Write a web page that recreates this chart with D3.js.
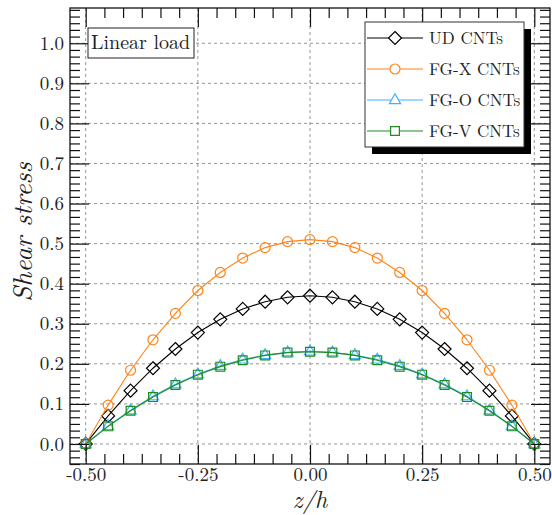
<!DOCTYPE html>
<html>
<head>
<meta charset="utf-8">
<script src="https://cdn.jsdelivr.net/npm/d3@7"></script>
<style>
  body { margin: 0; background: #fff; }
</style>
</head>
<body>
<svg id="chart" width="552" height="515"></svg>
<script>
// data
const zh = [-0.5, -0.45, -0.4, -0.35, -0.3, -0.25, -0.2, -0.15, -0.1, -0.05, 0,
            0.05, 0.1, 0.15, 0.2, 0.25, 0.3, 0.35, 0.4, 0.45, 0.5];
const udCNT  = [0, 0.070, 0.133, 0.189, 0.237, 0.278, 0.311, 0.337, 0.355, 0.366, 0.370,
                0.366, 0.355, 0.337, 0.311, 0.278, 0.237, 0.189, 0.133, 0.070, 0];
const fgxCNT = [0, 0.097, 0.184, 0.260, 0.326, 0.383, 0.428, 0.464, 0.490, 0.505, 0.510,
                0.505, 0.490, 0.464, 0.428, 0.383, 0.326, 0.260, 0.184, 0.097, 0];
const fgoCNT = [0, 0.045, 0.084, 0.119, 0.149, 0.174, 0.195, 0.211, 0.222, 0.229, 0.231,
                0.229, 0.222, 0.211, 0.195, 0.174, 0.149, 0.119, 0.084, 0.045, 0];
const fgvCNT = [0, 0.044, 0.083, 0.117, 0.147, 0.173, 0.193, 0.209, 0.221, 0.228, 0.230,
                0.228, 0.221, 0.209, 0.193, 0.173, 0.147, 0.117, 0.083, 0.044, 0];

const seriesNames = ["UD CNTs", "FG-X CNTs", "FG-O CNTs", "FG-V CNTs"];
const xTicks = [-0.5, -0.25, 0, 0.25, 0.5];
const xTickLabels = ["-0.50", "-0.25", "0.00", "0.25", "0.50"];
const yTicks = [0, 0.1, 0.2, 0.3, 0.4, 0.5, 0.6, 0.7, 0.8, 0.9, 1.0];
const yTickLabels = ["0.0", "0.1", "0.2", "0.3", "0.4", "0.5", "0.6", "0.7", "0.8", "0.9", "1.0"];

const series = [
  {name: seriesNames[0], values: udCNT,  color: "#000000", marker: "diamond"},
  {name: seriesNames[1], values: fgxCNT, color: "#ff8419", marker: "circle"},
  {name: seriesNames[2], values: fgoCNT, color: "#3cb4ff", marker: "triangle"},
  {name: seriesNames[3], values: fgvCNT, color: "#1e8c1e", marker: "square"}
];

const lmFont = '"Latin Modern Roman"';

const svg = d3.select("#chart");
const plotL = 70, plotR = 550, plotT = 8, plotB = 464;

const x = d3.scaleLinear().domain([-0.535, 0.535]).range([plotL, plotR]);
const y = d3.scaleLinear().domain([-0.05, 1.088]).range([plotB, plotT]);

// minor ticks: 5 between each pair of majors
const xMinor = d3.range(-0.5, 0.5001, 0.25 / 6).filter((d, i) => i % 6 !== 0);
const yMinor = d3.range(-3, 66).map(k => k / 60).filter(d => Math.abs(Math.round(d * 60)) % 6 !== 0);

// grid
const grid = svg.append("g")
    .attr("stroke", "#8a8a8a")
    .attr("stroke-width", 0.9)
    .attr("stroke-dasharray", "3,3");
grid.selectAll(".gx").data(xTicks).join("line")
    .attr("class", "gx")
    .attr("x1", d => x(d)).attr("x2", d => x(d))
    .attr("y1", plotT).attr("y2", plotB);
grid.selectAll(".gy").data(yTicks).join("line")
    .attr("class", "gy")
    .attr("y1", d => y(d)).attr("y2", d => y(d))
    .attr("x1", plotL).attr("x2", plotR);

// series
function markerPath(type) {
  if (type === "diamond") return "M0,-6.5L6.5,0L0,6.5L-6.5,0Z";
  if (type === "circle") return "M5,0A5,5 0 1,1 -5,0A5,5 0 1,1 5,0Z";
  if (type === "triangle") return "M0,-6.2L5.6,3.6L-5.6,3.6Z";
  return "M-4.4,-4.4H4.4V4.4H-4.4Z";
}

const line = d3.line()
    .x((d, i) => x(zh[i]))
    .y(d => y(d));

series.forEach(s => {
  const g = svg.append("g");
  g.append("path")
      .attr("d", line(s.values))
      .attr("fill", "none")
      .attr("stroke", s.color)
      .attr("stroke-width", 1.1);
  g.selectAll("path.mk").data(s.values).join("path")
      .attr("class", "mk")
      .attr("transform", (d, i) => `translate(${x(zh[i])},${y(d)})`)
      .attr("d", markerPath(s.marker))
      .attr("fill", "none")
      .attr("stroke", s.color)
      .attr("stroke-width", 1.2);
});

// axes, ticks pointing inward on all four sides
function styleAxis(g) {
  g.select(".domain").remove();
  g.attr("font-family", null);
  g.selectAll(".tick line").attr("stroke", "#111").attr("stroke-width", 1.2);
  g.selectAll("text")
      .style("font-family", lmFont)
      .style("font-size", "19px")
      .attr("fill", "#222");
}

svg.append("g").attr("transform", `translate(0,${plotB})`)
    .call(d3.axisBottom(x).tickValues(xTicks).tickSize(-19).tickSizeOuter(0)
      .tickFormat((d, i) => xTickLabels[i]))
    .call(styleAxis)
    .call(g => g.selectAll("text").attr("y", 17).attr("dy", null));
svg.append("g").attr("transform", `translate(0,${plotB})`)
    .call(d3.axisBottom(x).tickValues(xMinor).tickSize(-10).tickFormat(""))
    .call(styleAxis);
svg.append("g").attr("transform", `translate(0,${plotT})`)
    .call(d3.axisTop(x).tickValues(xTicks).tickSize(-19).tickFormat(""))
    .call(styleAxis);
svg.append("g").attr("transform", `translate(0,${plotT})`)
    .call(d3.axisTop(x).tickValues(xMinor).tickSize(-10).tickFormat(""))
    .call(styleAxis);

svg.append("g").attr("transform", `translate(${plotL},0)`)
    .call(d3.axisLeft(y).tickValues(yTicks).tickSize(-19).tickPadding(6)
      .tickFormat((d, i) => yTickLabels[i]))
    .call(styleAxis);
svg.append("g").attr("transform", `translate(${plotL},0)`)
    .call(d3.axisLeft(y).tickValues(yMinor).tickSize(-10).tickFormat(""))
    .call(styleAxis);
svg.append("g").attr("transform", `translate(${plotR},0)`)
    .call(d3.axisRight(y).tickValues(yTicks).tickSize(-19).tickFormat(""))
    .call(styleAxis);
svg.append("g").attr("transform", `translate(${plotR},0)`)
    .call(d3.axisRight(y).tickValues(yMinor).tickSize(-10).tickFormat(""))
    .call(styleAxis);

// frame
svg.append("rect")
    .attr("x", plotL).attr("y", plotT)
    .attr("width", plotR - plotL).attr("height", plotB - plotT)
    .attr("fill", "none").attr("stroke", "#111").attr("stroke-width", 1.3);

// axis titles
svg.append("text")
    .attr("x", (plotL + plotR) / 2).attr("y", 508)
    .attr("text-anchor", "middle")
    .style("font-family", lmFont)
    .style("font-size", "24px").style("font-style", "italic")
    .attr("fill", "#222")
    .text("z/h");
svg.append("text")
    .attr("transform", "translate(32,232) rotate(-90)")
    .attr("text-anchor", "middle")
    .style("font-family", lmFont)
    .style("font-size", "27px").style("font-style", "italic")
    .attr("fill", "#222")
    .text("Shear stress");

// "Linear load" label
svg.append("rect")
    .attr("x", 88).attr("y", 28).attr("width", 106).attr("height", 30)
    .attr("fill", "#fff").attr("stroke", "#222").attr("stroke-width", 1);
svg.append("text")
    .attr("x", 91).attr("y", 49)
    .style("font-family", lmFont)
    .style("font-size", "20px")
    .attr("fill", "#222")
    .text("Linear load");

// legend
const lg = svg.append("g").attr("transform", "translate(365,22)");
lg.append("rect")
    .attr("x", 7).attr("y", 7).attr("width", 159).attr("height", 125)
    .attr("fill", "#000");
lg.append("rect")
    .attr("width", 159).attr("height", 125)
    .attr("fill", "#fff").attr("stroke", "#333").attr("stroke-width", 1);
const rows = lg.selectAll(".row").data(series).join("g")
    .attr("class", "row")
    .attr("transform", (d, i) => `translate(0,${16 + i * 31})`);
rows.append("line")
    .attr("x1", 2).attr("x2", 58)
    .attr("stroke", d => d.color).attr("stroke-width", 1.1);
rows.append("path")
    .attr("transform", "translate(30,0)")
    .attr("d", d => markerPath(d.marker))
    .attr("fill", "#fff")
    .attr("stroke", d => d.color).attr("stroke-width", 1.2);
rows.append("text")
    .attr("x", 64).attr("y", 6)
    .style("font-family", lmFont)
    .style("font-size", "17px")
    .attr("fill", "#222")
    .text(d => d.name);
</script>
</body>
</html>
